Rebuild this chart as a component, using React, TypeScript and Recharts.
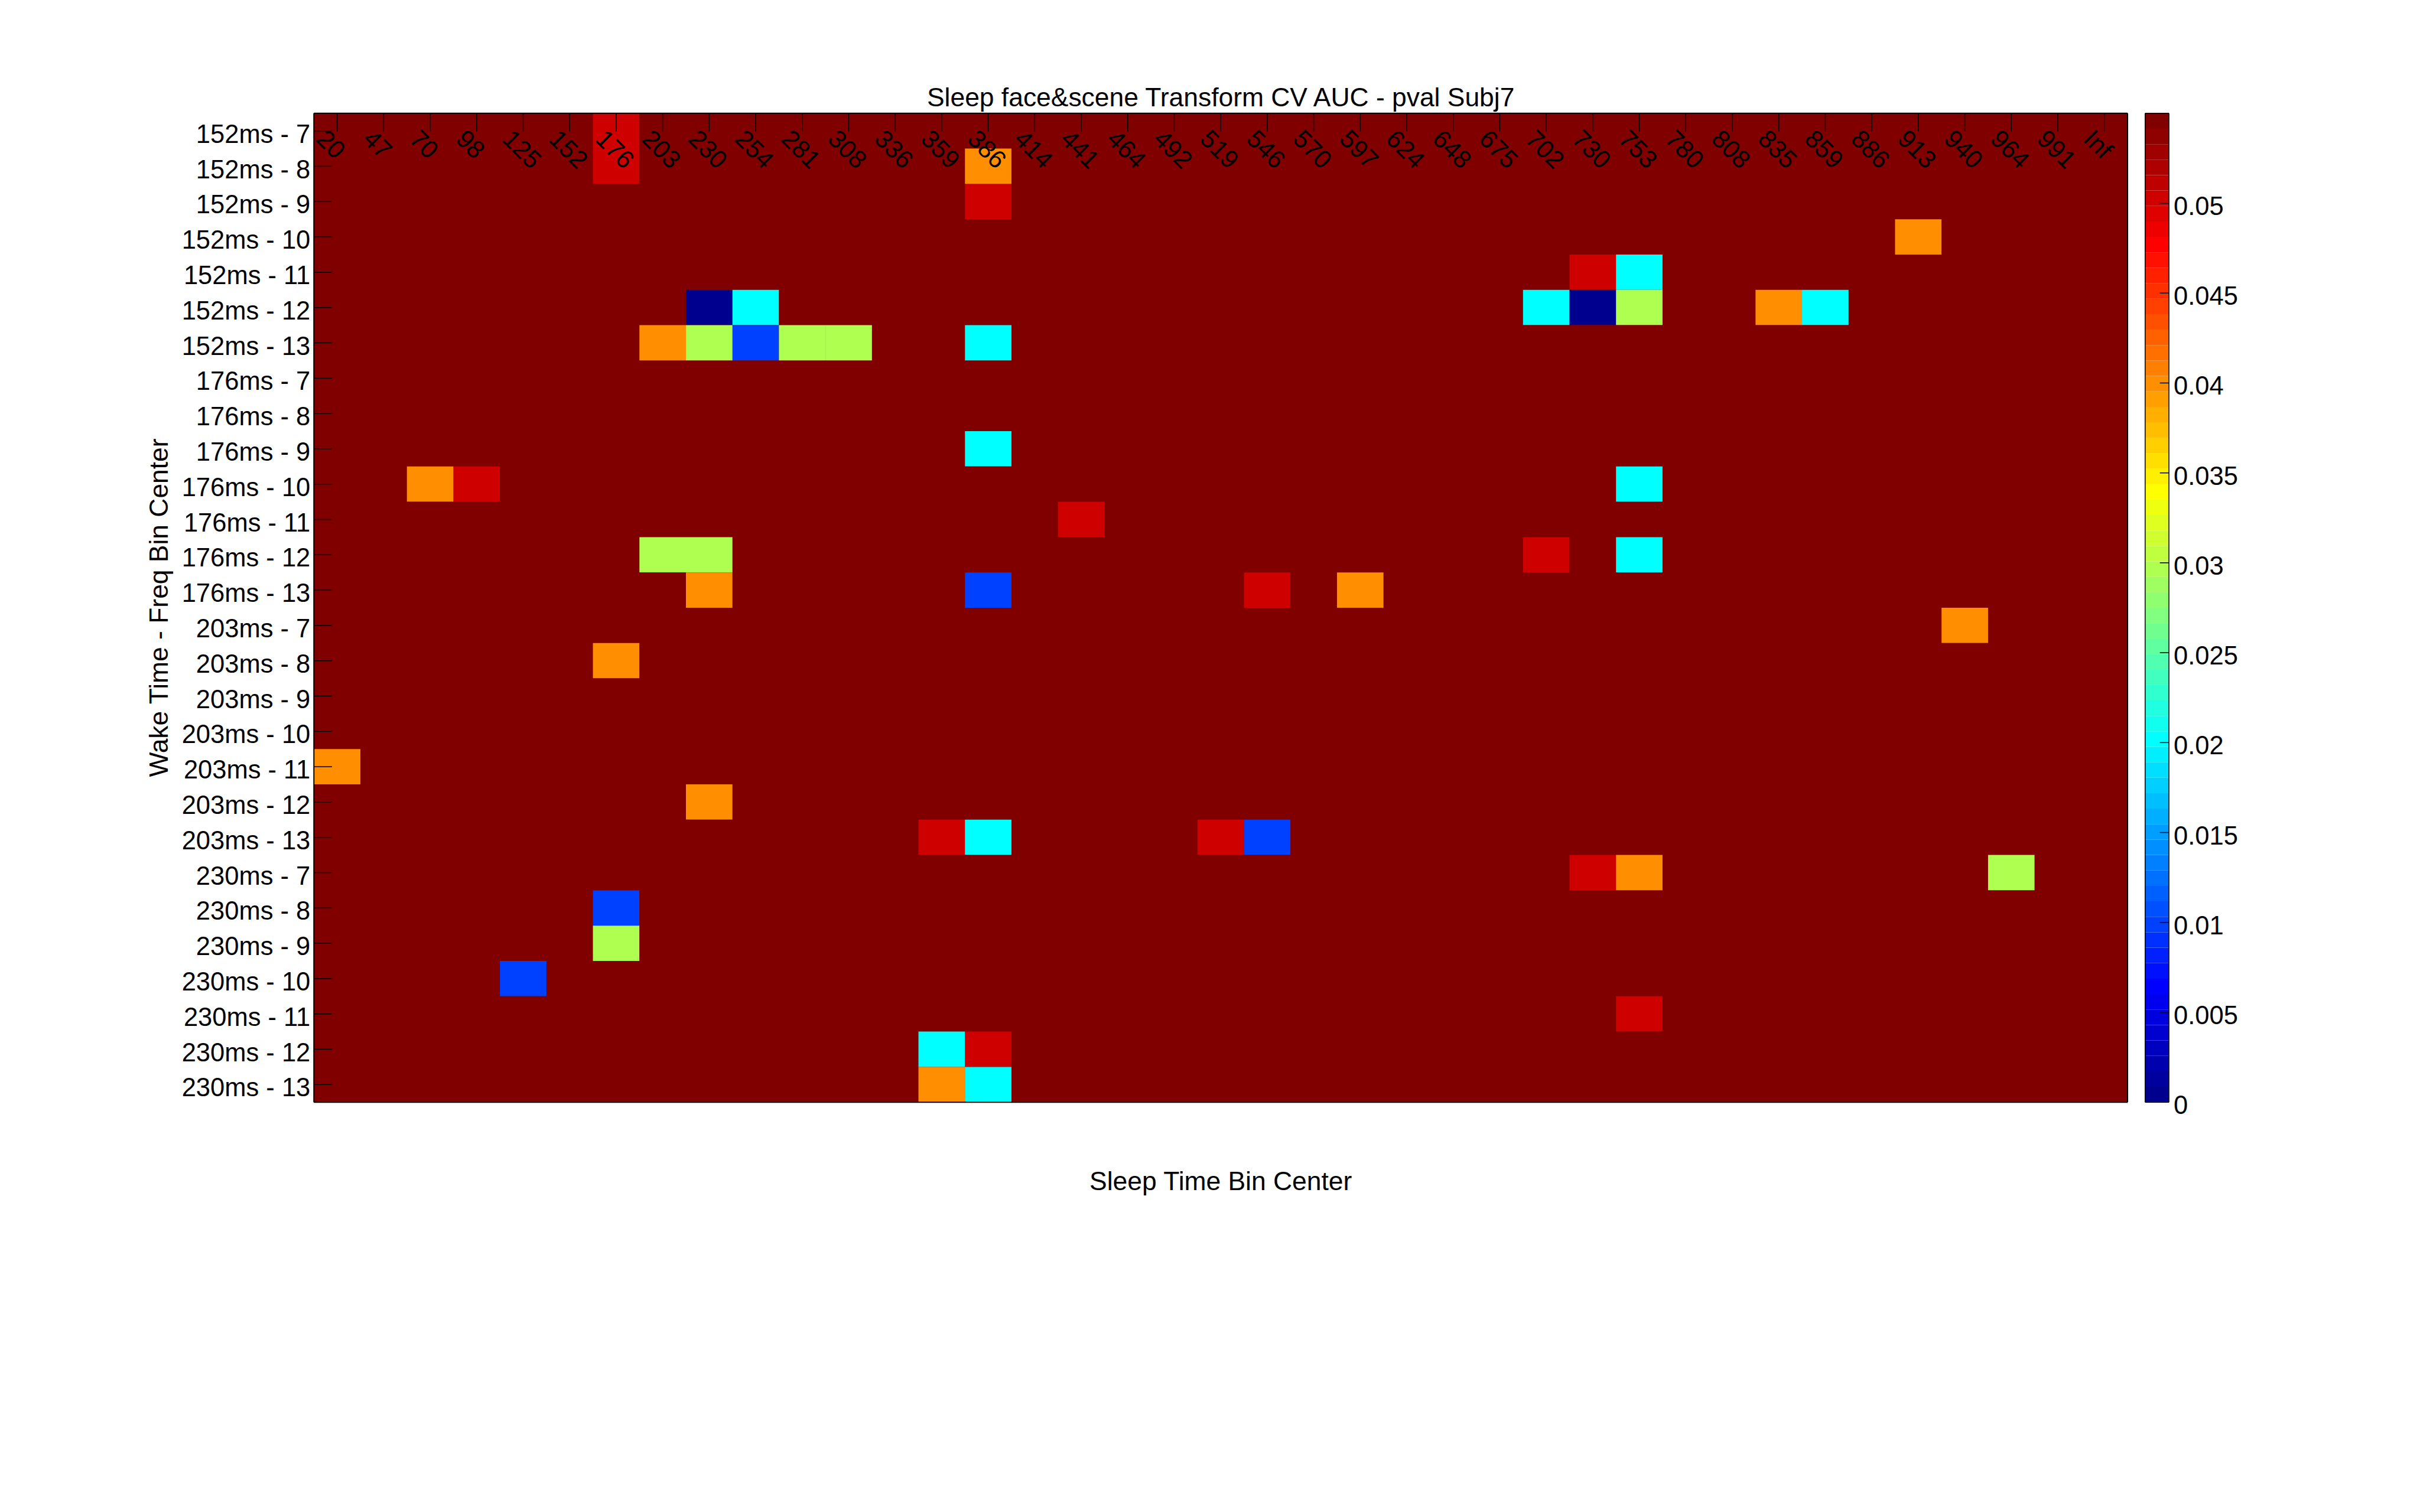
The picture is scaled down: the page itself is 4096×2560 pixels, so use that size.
import React from 'react';
import { BarChart, Bar, Cell, XAxis, YAxis, CartesianGrid } from 'recharts';

// ---------------- data ----------------
const sleepBins = ['20', '47', '70', '98', '125', '152', '176', '203', '230', '254', '281', '308', '336', '359', '386', '414', '441', '464', '492', '519', '546', '570', '597', '624', '648', '675', '702', '730', '753', '780', '808', '835', '859', '886', '913', '940', '964', '991', 'Inf'];
const wakeTimes = ['152ms', '176ms', '203ms', '230ms'];
const freqBins = ['7', '8', '9', '10', '11', '12', '13'];

// cells whose p-value falls inside the colour limit: [row label, sleep bin, p]
const sigCells: [string, string, number][] = [
  ['152ms - 7', '176', 0.0502],
  ['152ms - 8', '176', 0.0502],
  ['152ms - 8', '386', 0.04],
  ['152ms - 9', '386', 0.0502],
  ['152ms - 10', '913', 0.04],
  ['152ms - 11', '730', 0.0502],
  ['152ms - 11', '753', 0.02],
  ['152ms - 12', '230', 0.0004],
  ['152ms - 12', '254', 0.02],
  ['152ms - 12', '702', 0.02],
  ['152ms - 12', '730', 0.0004],
  ['152ms - 12', '753', 0.0297],
  ['152ms - 12', '835', 0.04],
  ['152ms - 12', '859', 0.02],
  ['152ms - 13', '203', 0.04],
  ['152ms - 13', '230', 0.0297],
  ['152ms - 13', '254', 0.0099],
  ['152ms - 13', '281', 0.0297],
  ['152ms - 13', '308', 0.0297],
  ['152ms - 13', '386', 0.02],
  ['176ms - 9', '386', 0.02],
  ['176ms - 10', '70', 0.04],
  ['176ms - 10', '98', 0.0502],
  ['176ms - 10', '753', 0.02],
  ['176ms - 11', '441', 0.0502],
  ['176ms - 12', '203', 0.0297],
  ['176ms - 12', '230', 0.0297],
  ['176ms - 12', '702', 0.0502],
  ['176ms - 12', '753', 0.02],
  ['176ms - 13', '230', 0.04],
  ['176ms - 13', '386', 0.0099],
  ['176ms - 13', '546', 0.0502],
  ['176ms - 13', '597', 0.04],
  ['203ms - 7', '940', 0.04],
  ['203ms - 8', '176', 0.04],
  ['203ms - 11', '20', 0.04],
  ['203ms - 12', '230', 0.04],
  ['203ms - 13', '359', 0.0502],
  ['203ms - 13', '386', 0.02],
  ['203ms - 13', '519', 0.0502],
  ['203ms - 13', '546', 0.0099],
  ['230ms - 7', '730', 0.0502],
  ['230ms - 7', '753', 0.04],
  ['230ms - 7', '964', 0.0297],
  ['230ms - 8', '176', 0.0099],
  ['230ms - 9', '176', 0.0297],
  ['230ms - 10', '125', 0.0099],
  ['230ms - 11', '753', 0.0502],
  ['230ms - 12', '359', 0.02],
  ['230ms - 12', '386', 0.0502],
  ['230ms - 13', '359', 0.04],
  ['230ms - 13', '386', 0.02],
];
// every other cell lies above the colour limit (drawn in the top colour)
const P_ABOVE_LIMIT = 1;

const colorbarTicks = [0, 0.005, 0.01, 0.015, 0.02, 0.025, 0.03, 0.035, 0.04, 0.045, 0.05];
const CMAX = 0.055;
const N_COLORS = 64;

const titleText = 'Sleep face&scene Transform CV AUC - pval Subj7';
const xLabelText = 'Sleep Time Bin Center';
const yLabelText = 'Wake Time - Freq Bin Center';

// ---------------- layout ----------------
const S = 0.959;
const W = 4096;
const H = 2560;
const PLOT = { left: 554 * S, top: 200 * S, right: 3755 * S, bottom: 1946 * S };
const CB = { left: 3786 * S, right: 3828 * S };
const TICK = 32 * S;
const CB_TICK = 16 * S;
const FONT = 'Liberation Sans, Arial, Helvetica, sans-serif';
const TICK_FONT = 43.5;
const LABEL_FONT = 44.4;

// MATLAB jet(64) colormap
const jetU: number[] = (() => {
  const n = 16;
  const u: number[] = [];
  for (let k = 1; k <= n; k++) u.push(k / n);
  for (let k = 0; k < n - 1; k++) u.push(1);
  for (let k = n; k >= 1; k--) u.push(k / n);
  return u;
})();
const uAt = (k: number) => (k >= 1 && k <= jetU.length ? jetU[k - 1] : 0);
const toHex = (v: number) => Math.round(v * 255).toString(16).padStart(2, '0');
function jet(i: number): string {
  const idx = i + 1; // 1-based
  const r = uAt(idx - 24);
  const g = uAt(idx - 8);
  const b = idx <= 39 ? uAt(idx + 8) : 0;
  return '#' + toHex(r) + toHex(g) + toHex(b);
}
function colorOf(p: number): string {
  const idx = Math.min(N_COLORS - 1, Math.max(0, Math.floor((p / CMAX) * N_COLORS)));
  return jet(idx);
}

const rowLabels = wakeTimes.flatMap((w) => freqBins.map((f) => `${w} - ${f}`));
const rowTicks = rowLabels.map((_, i) => i + 0.5);
const pMap = new Map<string, number>();
sigCells.forEach(([row, bin, p]) => pMap.set(`${row}|${bin}`, p));
const pOf = (row: string, bin: string) => pMap.get(`${row}|${bin}`) ?? P_ABOVE_LIMIT;

// each column stacks one unit slot per row
const heatData = sleepBins.map((bin) => {
  const o: Record<string, any> = { bin };
  rowLabels.forEach((_, i) => (o[`r${i}`] = 1));
  return o;
});

const cbData = [
  (() => {
    const o: Record<string, any> = { name: 'cb' };
    for (let i = 0; i < N_COLORS; i++) o[`c${i}`] = CMAX / N_COLORS;
    return o;
  })(),
];

const LeftTick = (props: any) => {
  const { y, payload } = props;
  const label = rowLabels[Math.floor(payload.value)];
  return (
    <text x={PLOT.left - 6} y={y + 20} textAnchor="end" fontSize={TICK_FONT} fontFamily={FONT} fill="#000">
      {label}
    </text>
  );
};

const TopTick = (props: any) => {
  const { x, payload } = props;
  return (
    <text
      transform={`translate(${x - 37.4}, ${PLOT.top + 46}) rotate(45)`}
      textAnchor="start"
      fontSize={42.7}
      fontFamily={FONT}
      fill="#000"
    >
      {payload.value}
    </text>
  );
};

const CbTick = (props: any) => {
  const { y, payload } = props;
  return (
    <text x={CB.right + 8} y={y + 20} textAnchor="start" fontSize={TICK_FONT} fontFamily={FONT} fill="#000">
      {String(payload.value)}
    </text>
  );
};

const lineStyle = { stroke: '#000', strokeWidth: 1.5 };
const boxStyle = { stroke: '#000', strokeWidth: 2 };

export default function App() {
  return (
    <div style={{ position: 'absolute', left: 0, top: 0, width: W, height: H, background: '#fff', fontFamily: FONT }}>
      <div style={{ position: 'absolute', left: 0, top: 0 }}>
        <BarChart
          width={W}
          height={H}
          data={heatData}
          barCategoryGap={0}
          barGap={0}
          margin={{ top: PLOT.top, left: PLOT.left, right: W - PLOT.right, bottom: H - PLOT.bottom }}
        >
          <CartesianGrid xAxisId="bottom" yAxisId="left" fill="#800000" stroke="none" horizontal={false} vertical={false} />
          {rowLabels.map((row, i) => (
            <Bar key={row} dataKey={`r${i}`} stackId="cells" xAxisId="bottom" yAxisId="left" isAnimationActive={false}>
              {sleepBins.map((bin) => (
                <Cell key={bin} fill={colorOf(pOf(row, bin))} />
              ))}
            </Bar>
          ))}
          <XAxis
            xAxisId="bottom"
            dataKey="bin"
            orientation="bottom"
            mirror
            interval={0}
            tickSize={TICK}
            tickLine={lineStyle}
            axisLine={boxStyle}
            tick={false}
          />
          <XAxis
            xAxisId="top"
            dataKey="bin"
            orientation="top"
            mirror
            interval={0}
            tickSize={TICK}
            tickLine={lineStyle}
            axisLine={boxStyle}
            tick={(p: any) => <TopTick {...p} />}
          />
          <YAxis
            yAxisId="left"
            type="number"
            orientation="left"
            domain={[0, rowLabels.length]}
            reversed
            allowDataOverflow
            ticks={rowTicks}
            interval={0}
            mirror
            tickSize={TICK}
            tickLine={lineStyle}
            axisLine={boxStyle}
            tick={(p: any) => <LeftTick {...p} />}
          />
          <YAxis
            yAxisId="right"
            type="number"
            orientation="right"
            domain={[0, rowLabels.length]}
            reversed
            allowDataOverflow
            ticks={rowTicks}
            interval={0}
            mirror
            tickSize={TICK}
            tickLine={lineStyle}
            axisLine={boxStyle}
            tick={false}
          />
        </BarChart>
      </div>
      <div style={{ position: 'absolute', left: 0, top: 0 }}>
        <BarChart
          width={W}
          height={H}
          data={cbData}
          barCategoryGap={0}
          margin={{ top: PLOT.top, left: CB.left, right: W - CB.right, bottom: H - PLOT.bottom }}
        >
          {Array.from({ length: N_COLORS }, (_, i) => (
            <Bar key={i} dataKey={`c${i}`} stackId="cb" xAxisId="cbBottom" yAxisId="cbR" fill={jet(i)} isAnimationActive={false} />
          ))}
          <XAxis xAxisId="cbBottom" dataKey="name" orientation="bottom" mirror tick={false} tickLine={false} axisLine={{ stroke: '#000', strokeWidth: 1.5 }} />
          <XAxis xAxisId="cbTop" dataKey="name" orientation="top" mirror tick={false} tickLine={false} axisLine={{ stroke: '#000', strokeWidth: 1.5 }} />
          <YAxis
            yAxisId="cbR"
            type="number"
            orientation="right"
            domain={[0, CMAX]}
            allowDataOverflow
            ticks={colorbarTicks}
            interval={0}
            mirror
            tickSize={CB_TICK}
            tickLine={lineStyle}
            axisLine={{ stroke: '#000', strokeWidth: 1.5 }}
            tick={(p: any) => <CbTick {...p} />}
          />
          <YAxis
            yAxisId="cbL"
            type="number"
            orientation="left"
            domain={[0, CMAX]}
            allowDataOverflow
            ticks={colorbarTicks}
            interval={0}
            mirror
            tickSize={CB_TICK}
            tickLine={lineStyle}
            axisLine={{ stroke: '#000', strokeWidth: 1.5 }}
            tick={false}
          />
        </BarChart>
      </div>
      <svg width={W} height={H} style={{ position: 'absolute', left: 0, top: 0, pointerEvents: 'none' }}>
        <text x={(PLOT.left + PLOT.right) / 2} y={188 * S} textAnchor="middle" fontSize={LABEL_FONT} fontFamily={FONT} fill="#000">
          {titleText}
        </text>
        <text x={(PLOT.left + PLOT.right) / 2} y={2101 * S} textAnchor="middle" fontSize={LABEL_FONT} fontFamily={FONT} fill="#000">
          {xLabelText}
        </text>
        <text
          transform={`translate(${296 * S}, ${(PLOT.top + PLOT.bottom) / 2}) rotate(-90)`}
          textAnchor="middle"
          fontSize={LABEL_FONT}
          fontFamily={FONT}
          fill="#000"
        >
          {yLabelText}
        </text>
      </svg>
    </div>
  );
}
